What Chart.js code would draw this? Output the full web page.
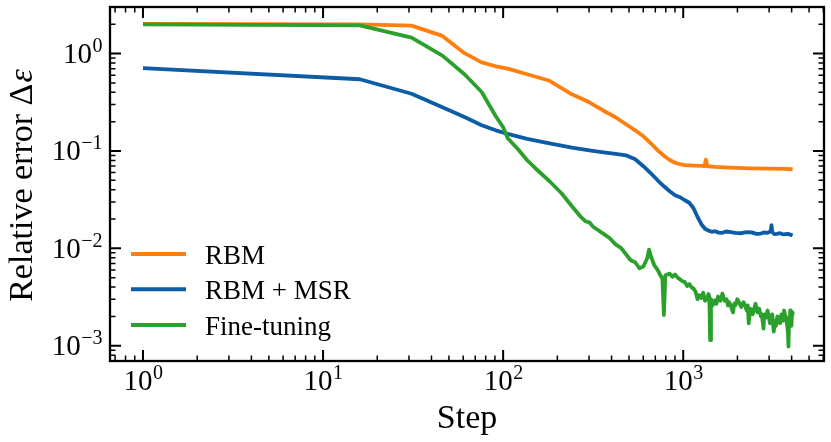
<!DOCTYPE html>
<html lang="en">
<head>
    <meta charset="UTF-8">
    <title>Relative error vs step</title>
    <script src="https://cdn.jsdelivr.net/npm/chart.js"></script>
    <style>
        body {
            margin: 0;
            background-color: #fff;
        }
    </style>
</head>
<body>
    <canvas id="errorChart" width="831" height="442"></canvas>

    <script>
        // values
        const seriesLabels = ['RBM', 'RBM + MSR', 'Fine-tuning'];

        const rbmSteps = [1, 16, 31, 46, 61, 76, 91, 106, 136, 181, 241, 301, 361, 421, 481, 541, 601, 661, 721, 781, 841, 901, 961, 1021, 1141, 1261, 1306, 1321, 1336, 1351, 1366, 1501, 1801, 2401, 3001, 3601, 4051];
        const rbmErr = [2.02, 2.0, 1.94, 1.52, 1.01, 0.814, 0.741, 0.70, 0.613, 0.526, 0.382, 0.316, 0.259, 0.222, 0.188, 0.163, 0.1416, 0.12, 0.1017, 0.0893, 0.0809, 0.0757, 0.0731, 0.0714, 0.0707, 0.0702, 0.0701, 0.0745, 0.0816, 0.0740, 0.0697, 0.0688, 0.0676, 0.0664, 0.066, 0.0654, 0.0649];

        const msrSteps = [1, 16, 31, 46, 61, 76, 91, 106, 136, 181, 241, 301, 361, 421, 481, 541, 601, 661, 721, 781, 841, 901, 961, 1021, 1081, 1141, 1201, 1261, 1321, 1381, 1441, 1501, 1576, 1651, 1726, 1801, 1951, 2101, 2251, 2401, 2551, 2701, 2821, 2941, 3061, 3091, 3121, 3211, 3301, 3451, 3601, 3811, 4051];
        const msrErr = [0.711, 0.545, 0.387, 0.281, 0.223, 0.184, 0.163, 0.150, 0.1334, 0.120, 0.108, 0.1017, 0.097, 0.0936, 0.0903, 0.0822, 0.0697, 0.059, 0.050, 0.0434, 0.0386, 0.0351, 0.0335, 0.0312, 0.0294, 0.0258, 0.0210, 0.0177, 0.0159, 0.0152, 0.0148, 0.0150, 0.0145, 0.01445, 0.0149, 0.0148, 0.0144, 0.0143, 0.0147, 0.0146, 0.0141, 0.0142, 0.0146, 0.0144, 0.0150, 0.0173, 0.0147, 0.0140, 0.0141, 0.0143, 0.0139, 0.0141, 0.0136];

        const ftSteps = [1, 16, 31, 46, 61, 76, 91, 100, 106, 121, 136, 151, 181, 211, 241, 271, 286, 301, 316, 331, 361, 391, 421, 451, 481, 511, 541, 571, 601, 631, 646, 661, 691, 721, 751, 766, 781, 796, 841, 871, 901, 931, 961, 991, 1021, 1051, 1081, 1111, 1141, 1171, 1201, 1231, 1261, 1291, 1321, 1351, 1381, 1396, 1411, 1426, 1456, 1501, 1531, 1561, 1606, 1651, 1696, 1741, 1771, 1801, 1846, 1891, 1921, 1951, 1996, 2041, 2101, 2161, 2206, 2251, 2281, 2311, 2341, 2371, 2431, 2491, 2521, 2581, 2641, 2701, 2731, 2791, 2821, 2881, 2941, 2971, 3031, 3061, 3121, 3181, 3241, 3271, 3331, 3391, 3451, 3511, 3571, 3631, 3691, 3721, 3781, 3811, 3841, 3871, 3901, 3931, 3961, 3991, 4021, 4051];
        const ftErr = [2.0, 1.95, 1.46, 0.954, 0.613, 0.403, 0.227, 0.175, 0.135, 0.104, 0.0803, 0.0665, 0.0489, 0.0368, 0.0271, 0.0209, 0.0190, 0.0185, 0.0167, 0.0157, 0.0141, 0.0127, 0.0110, 0.0101, 0.0087, 0.00755, 0.0072, 0.00625, 0.0065, 0.0079, 0.0097, 0.0083, 0.0067, 0.0060, 0.0052, 0.0049, 0.00206, 0.0053, 0.0055, 0.0051, 0.0054, 0.0050, 0.0048, 0.0046, 0.0045, 0.0041, 0.0043, 0.0040, 0.00386, 0.0036, 0.0030, 0.0033, 0.0031, 0.0035, 0.0029, 0.0030, 0.0034, 0.0032, 0.00114, 0.0030, 0.0026, 0.00293, 0.0027, 0.0032, 0.0029, 0.00343, 0.0029, 0.0030, 0.0026, 0.0028, 0.0025, 0.0022, 0.0027, 0.0026, 0.0030, 0.0028, 0.0025, 0.0028, 0.0026, 0.0023, 0.0026, 0.0017, 0.0022, 0.0024, 0.0021, 0.0025, 0.0027, 0.0022, 0.0024, 0.0020, 0.0021, 0.0015, 0.0021, 0.00195, 0.0023, 0.0021, 0.0017, 0.0019, 0.0021, 0.0014, 0.0018, 0.0016, 0.0020, 0.00195, 0.0017, 0.0021, 0.0018, 0.0023, 0.0020, 0.0019, 0.0016, 0.0014, 0.00098, 0.0019, 0.0017, 0.0023, 0.0018, 0.0016, 0.0022, 0.0021];

        const xMajor = [0, 1, 2, 3];
        const yMajor = [-3, -2, -1, 0];

        const colors = ['#ff7f0e', '#0c5da5', '#2ca02c'];
        const SERIF = '"Liberation Serif", "Times New Roman", serif';

        function toPoints(xs, ys) {
            return xs.map((x, i) => ({ x: x, y: ys[i] }));
        }

        // superscript power label, e.g. 10^-2
        function drawPow(ctx, exp, x, baseline, align) {
            const e = exp < 0 ? '\u2212' + (-exp) : String(exp);
            ctx.font = '29px ' + SERIF;
            const w1 = ctx.measureText('10').width;
            ctx.font = '20px ' + SERIF;
            const w2 = ctx.measureText(e).width;
            let start = align === 'center' ? x - (w1 + w2) / 2 : x - w1 - w2;
            ctx.textAlign = 'left';
            ctx.textBaseline = 'alphabetic';
            ctx.font = '29px ' + SERIF;
            ctx.fillText('10', start, baseline);
            ctx.font = '20px ' + SERIF;
            ctx.fillText(e, start + w1 + 0.5, baseline - 11);
        }

        const framePlugin = {
            id: 'frame',
            afterDraw(chart) {
                const { ctx, chartArea: a, scales } = chart;
                const xs = scales.x, ys = scales.y;
                ctx.save();
                ctx.strokeStyle = '#000';
                ctx.fillStyle = '#000';

                // inward ticks on all four sides
                for (let e = -4; e <= 4; e++) {
                    for (let m = 1; m <= 9; m++) {
                        const v = m * Math.pow(10, e);
                        const major = m === 1;
                        const len = major ? 11 : 5.5;
                        ctx.lineWidth = major ? 2 : 1.5;
                        if (v >= xs.min && v <= xs.max) {
                            const px = xs.getPixelForValue(v);
                            ctx.beginPath();
                            ctx.moveTo(px, a.bottom); ctx.lineTo(px, a.bottom - len);
                            ctx.moveTo(px, a.top); ctx.lineTo(px, a.top + len);
                            ctx.stroke();
                        }
                        if (v >= ys.min && v <= ys.max) {
                            const py = ys.getPixelForValue(v);
                            ctx.beginPath();
                            ctx.moveTo(a.left, py); ctx.lineTo(a.left + len, py);
                            ctx.moveTo(a.right, py); ctx.lineTo(a.right - len, py);
                            ctx.stroke();
                        }
                    }
                }

                ctx.lineWidth = 2.3;
                ctx.strokeRect(a.left, a.top, a.right - a.left, a.bottom - a.top);

                // tick labels
                xMajor.forEach(p => drawPow(ctx, p, xs.getPixelForValue(Math.pow(10, p)), a.bottom + 29, 'center'));
                yMajor.forEach(p => drawPow(ctx, p, a.left - 8, ys.getPixelForValue(Math.pow(10, p)) + 9.5, 'right'));

                // axis titles
                ctx.font = '34px ' + SERIF;
                ctx.textAlign = 'center';
                ctx.textBaseline = 'alphabetic';
                ctx.fillText('Step', (a.left + a.right) / 2, 428);

                ctx.save();
                ctx.translate(32, (a.top + a.bottom) / 2 + 2);
                ctx.rotate(-Math.PI / 2);
                ctx.font = '34px ' + SERIF;
                const t1 = 'Relative error \u0394';
                const w1 = ctx.measureText(t1).width;
                ctx.font = 'italic 34px ' + SERIF;
                const w2 = ctx.measureText('\u03b5').width;
                ctx.textAlign = 'left';
                ctx.font = '34px ' + SERIF;
                ctx.fillText(t1, -(w1 + w2) / 2, 0);
                ctx.font = 'italic 34px ' + SERIF;
                ctx.fillText('\u03b5', -(w1 + w2) / 2 + w1 + 1, 0);
                ctx.restore();

                // legend
                const legY = [254, 289.3, 325];
                seriesLabels.forEach((lab, i) => {
                    ctx.strokeStyle = colors[i];
                    ctx.lineWidth = 4;
                    ctx.beginPath();
                    ctx.moveTo(131, legY[i]);
                    ctx.lineTo(186, legY[i]);
                    ctx.stroke();
                    ctx.fillStyle = '#000';
                    ctx.font = '27px ' + SERIF;
                    ctx.textAlign = 'left';
                    ctx.fillText(lab, 205, legY[i] + 9.5);
                });
                ctx.restore();
            }
        };

        const ctx = document.getElementById('errorChart').getContext('2d');
        const errorChart = new Chart(ctx, {
            type: 'line',
            data: {
                datasets: [
                    { label: seriesLabels[0], data: toPoints(rbmSteps, rbmErr), borderColor: colors[0], order: 3 },
                    { label: seriesLabels[1], data: toPoints(msrSteps, msrErr), borderColor: colors[1], order: 2 },
                    { label: seriesLabels[2], data: toPoints(ftSteps, ftErr), borderColor: colors[2], order: 1 }
                ]
            },
            options: {
                responsive: false,
                devicePixelRatio: 1,
                animation: false,
                layout: { padding: { left: 110, top: 7, right: 7, bottom: 81 } },
                elements: {
                    point: { radius: 0 },
                    line: { borderWidth: 3.8, tension: 0, fill: false, borderJoinStyle: 'round' }
                },
                plugins: {
                    legend: { display: false },
                    tooltip: { enabled: false }
                },
                scales: {
                    x: { type: 'logarithmic', min: 0.656, max: 6050, display: false },
                    y: { type: 'logarithmic', min: 6.97e-4, max: 3.01, display: false }
                }
            },
            plugins: [framePlugin]
        });
    </script>
</body>
</html>
